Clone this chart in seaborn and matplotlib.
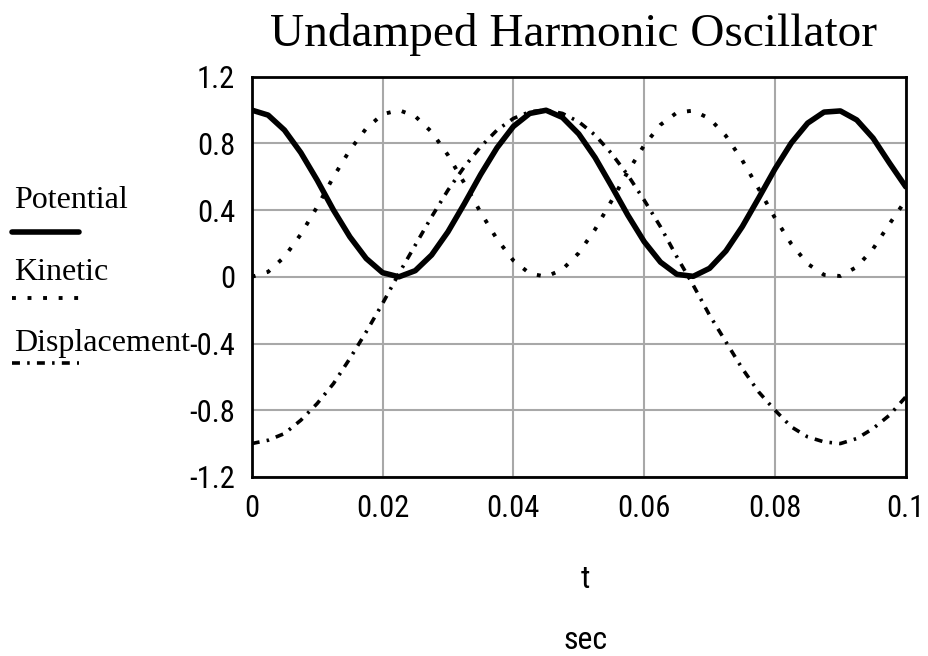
import numpy as np
import pandas as pd
import seaborn as sns
import matplotlib.pyplot as plt
from matplotlib.lines import Line2D

# values
t = [0, 0.0025, 0.005, 0.0075, 0.01, 0.0125, 0.015, 0.0175, 0.02, 0.0225,
     0.025, 0.0275, 0.03, 0.0325, 0.035, 0.0375, 0.04, 0.0425, 0.045, 0.0475,
     0.05, 0.0525, 0.055, 0.0575, 0.06, 0.0625, 0.065, 0.0675, 0.07, 0.0725,
     0.075, 0.0775, 0.08, 0.0825, 0.085, 0.0875, 0.09, 0.0925, 0.095, 0.0975, 0.1]
potential = [1.0, 0.97, 0.88, 0.745, 0.58, 0.40, 0.24, 0.11, 0.025, 0.0,
             0.037, 0.131, 0.27, 0.438, 0.614, 0.774, 0.902, 0.98, 0.999, 0.956,
             0.857, 0.715, 0.545, 0.37, 0.211, 0.088, 0.015, 0.003, 0.051, 0.155,
             0.301, 0.472, 0.647, 0.803, 0.922, 0.988, 0.995, 0.941, 0.832, 0.683, 0.54]
kinetic = [0.0, 0.03, 0.12, 0.255, 0.42, 0.60, 0.76, 0.89, 0.975, 1.0,
           0.963, 0.869, 0.73, 0.562, 0.386, 0.226, 0.098, 0.02, 0.001, 0.044,
           0.143, 0.285, 0.455, 0.63, 0.789, 0.912, 0.985, 0.997, 0.949, 0.845,
           0.699, 0.528, 0.353, 0.197, 0.078, 0.012, 0.005, 0.059, 0.168, 0.317, 0.46]
displacement = [-1.0, -0.98, -0.94, -0.86, -0.76, -0.64, -0.49, -0.33, -0.16, 0.02,
                0.19, 0.36, 0.52, 0.66, 0.78, 0.88, 0.95, 0.99, 1.0, 0.98,
                0.93, 0.85, 0.74, 0.61, 0.46, 0.30, 0.12, -0.05, -0.23, -0.39,
                -0.55, -0.69, -0.80, -0.90, -0.96, -0.99, -1.0, -0.97, -0.91, -0.83, -0.72]
xticks = [0, 0.02, 0.04, 0.06, 0.08, 0.1]
xticklabels = ["0", "0.02", "0.04", "0.06", "0.08", "0.1"]
yticks = [-1.2, -0.8, -0.4, 0, 0.4, 0.8, 1.2]
yticklabels = ["-1.2", "-0.8", "-0.4", "0", "0.4", "0.8", "1.2"]

df = pd.DataFrame({"t": t, "Potential": potential, "Kinetic": kinetic,
                   "Displacement": displacement})

sns.set_style("white")
plt.rcParams["text.color"] = "black"
serif = ["Liberation Serif", "DejaVu Serif"]
sans = ["Roboto Condensed", "Arial Narrow", "Liberation Sans Narrow", "Liberation Sans"]

fig = plt.figure(figsize=(9.29, 6.56), dpi=100)
ax = fig.add_axes([0.271, 0.273, 0.704, 0.61])

styles = {
    "Potential": dict(lw=4.0, ls="-"),
    "Kinetic": dict(lw=2.8, ls=(0, (1, 3))),
    "Displacement": dict(lw=2.6, ls=(0, (2.2, 2, 0.7, 2))),
}
for name in ["Kinetic", "Displacement", "Potential"]:
    sns.lineplot(data=df, x="t", y=name, ax=ax, color="black", **styles[name])

ax.set_xlim(0, 0.1)
ax.set_ylim(-1.2, 1.2)
ax.set_xticks(xticks)
ax.set_xticklabels(xticklabels, family=sans, fontsize=22, color="black")
ax.set_yticks(yticks)
ax.set_yticklabels(yticklabels, family=sans, fontsize=22, color="black")
ax.grid(True, color="#a8a8a8", lw=1.5)
for s in ax.spines.values():
    s.set_color("black")
    s.set_linewidth(2)
ax.tick_params(axis="y", length=4, width=1, color="black", pad=8)
ax.tick_params(axis="x", length=0, pad=12)
ax.set_xlabel("")
ax.set_ylabel("")

fig.text(0.617, 0.947, "Undamped Harmonic Oscillator", family=serif, fontsize=34,
         ha="center", va="center", color="black")
fig.text(0.63, 0.116, "t", family=sans, fontsize=23, ha="center", va="center")
fig.text(0.63, 0.024, "sec", family=sans, fontsize=23, ha="center", va="center")

# legend drawn on the left, label above sample line
legend_text_y = [0.695, 0.585, 0.477]
legend_line_y = [0.646, 0.546, 0.447]
for name, ty, ly in zip(["Potential", "Kinetic", "Displacement"], legend_text_y, legend_line_y):
    fig.text(0.015, ty, name, family=serif, fontsize=23, ha="left", va="center")
    fig.add_artist(Line2D([0.013, 0.085], [ly, ly],
                          transform=fig.transFigure, color="black", **styles[name]))

fig.savefig("out.png", dpi=100)
